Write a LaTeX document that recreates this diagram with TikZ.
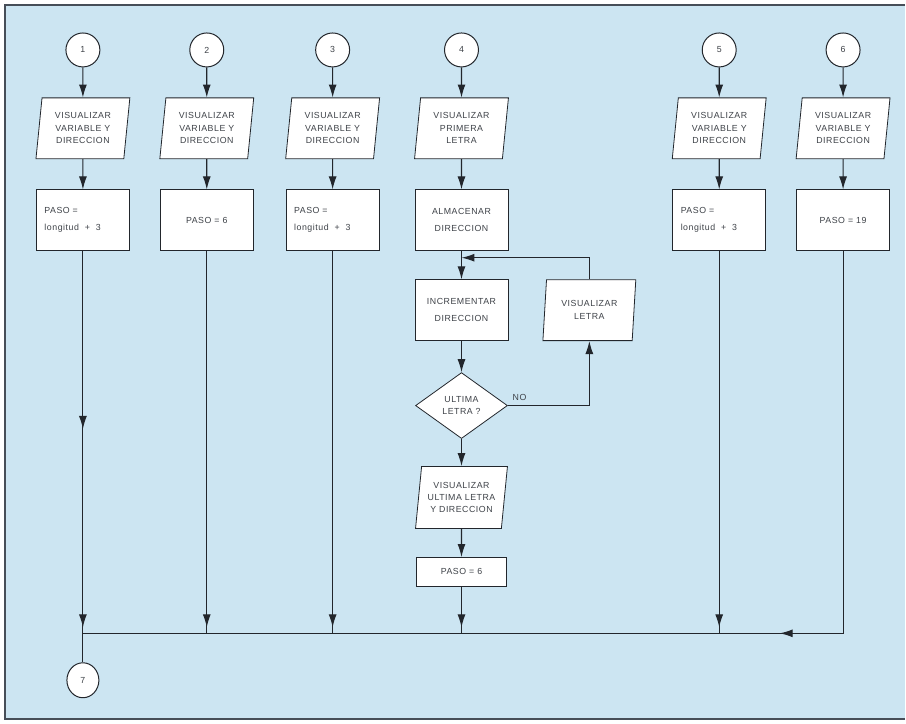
\documentclass[tikz,border=0pt]{standalone}
\usepackage{fontspec}
\setmainfont{Liberation Sans}[LetterSpace=6]
\usetikzlibrary{shapes.geometric,arrows.meta,decorations.markings}
\definecolor{bg}{RGB}{204,229,242}
\definecolor{ink}{RGB}{34,38,44}
\definecolor{txt}{RGB}{62,66,72}
\definecolor{framec}{RGB}{70,78,88}
\begin{document}
\begin{tikzpicture}[x=1pt,y=-1pt,
  every node/.style={font=\fontsize{8.8}{12.5}\selectfont, text=txt},
  tip/.style={-{Latex[length=13pt,width=8pt]}},
  conn/.style={color=ink, line width=1.1pt},
  arr/.style={conn, tip},
  endmark/.style={conn, postaction=decorate, decoration={markings,
      mark=at position -6pt with {\arrow{Latex[length=13pt,width=8pt]}}}},
  conncircle/.style={circle, draw=ink, line width=1pt, fill=white, minimum size=34pt, inner sep=0pt},
  para/.style={trapezium, trapezium left angle=79, trapezium right angle=101,
      trapezium stretches body, draw=ink, line width=0.8pt, fill=white,
      minimum width=94pt, minimum height=61pt, inner sep=0pt, align=center},
  procbox/.style={rectangle, draw=ink, line width=0.8pt, fill=white,
      minimum width=93pt, minimum height=61pt, inner sep=0pt, align=center},
  leftbox/.style={procbox, text width=77pt, align=left, font=\fontsize{8.8}{17}\selectfont},
  decision/.style={diamond, draw=ink, line width=0.8pt, fill=white, aspect=1.4,
      minimum width=92pt, minimum height=66pt, inner sep=0pt, align=center}
]
% background and frame
\fill[white] (0,0) rectangle (906,724);
\fill[bg] (5,5) rectangle (906,720);
\draw[framec, line width=2pt] (906,5) -- (5,5) -- (5,720) -- (906,720);

% column 1
\node[conncircle] (c1) at (83,50) {1};
\node[para] (p1) at (83,128.5) {VISUALIZAR\\VARIABLE Y\\DIRECCION};
\node[leftbox] (r1) at (83,220.5) {PASO =\\longitud \ + \ 3};
% column 2
\node[conncircle] (c2) at (207,50) {2};
\node[para] (p2) at (207,128.5) {VISUALIZAR\\VARIABLE Y\\DIRECCION};
\node[procbox] (r2) at (207,220.5) {PASO = 6};
% column 3
\node[conncircle] (c3) at (333,50) {3};
\node[para] (p3) at (333,128.5) {VISUALIZAR\\VARIABLE Y\\DIRECCION};
\node[leftbox] (r3) at (333,220.5) {PASO =\\longitud \ + \ 3};
% column 4
\node[conncircle] (c4) at (462,50) {4};
\node[para] (p4) at (462,128.5) {VISUALIZAR\\PRIMERA\\LETRA};
\node[procbox, font=\fontsize{8.8}{17}\selectfont] (r4) at (462,220.5) {ALMACENAR\\DIRECCION};
\node[procbox, font=\fontsize{8.8}{17}\selectfont] (inc) at (462,310.5) {INCREMENTAR\\DIRECCION};
\node[para, minimum width=93pt] (vl) at (590,310.5) {VISUALIZAR\\LETRA};
\node[decision] (dia) at (462,406) {ULTIMA\\LETRA ?};
\node[para, minimum width=92pt, minimum height=62pt] (ul) at (462,498) {VISUALIZAR\\ULTIMA LETRA\\Y DIRECCION};
\node[procbox, minimum width=90pt, minimum height=29pt] (r4b) at (462,572.5) {PASO = 6};
% column 5
\node[conncircle] (c5) at (720,50) {5};
\node[para] (p5) at (720,128.5) {VISUALIZAR\\VARIABLE Y\\DIRECCION};
\node[leftbox] (r5) at (720,220.5) {PASO =\\longitud \ + \ 3};
% column 6
\node[conncircle] (c6) at (844,50) {6};
\node[para] (p6) at (844,128.5) {VISUALIZAR\\VARIABLE Y\\DIRECCION};
\node[procbox] (r6) at (844,220.5) {PASO = 19};
% end connector
\node[ellipse, draw=ink, line width=1pt, fill=white, minimum width=32pt, minimum height=35pt, inner sep=0pt] (c7) at (83,681) {7};

% junctions
\coordinate (j1) at (83,634);
\coordinate (j2) at (207,634);
\coordinate (j3) at (333,634);
\coordinate (j4) at (462,634);
\coordinate (j5) at (720,634);
\coordinate (lj) at (462,258);

% top arrows
\foreach \i in {1,...,6} {
  \draw[arr] (c\i) -- (p\i);
  \draw[arr] (p\i) -- (r\i);
}
% loop in column 4
\draw[arr] (r4) -- (inc);
\draw[arr] (inc) -- (dia);
\draw[arr] (dia.east) -| (vl.south);
\draw[arr] (vl.north) |- (lj);
\node[anchor=south west, inner sep=0pt] (no) at (513,401) {NO};
\draw[arr] (dia) -- (ul);
\draw[arr] (ul) -- (r4b);

% down lines to the collector
\draw[conn, postaction=decorate, decoration={markings,
   mark=at position 178pt with {\arrow{Latex[length=13pt,width=8pt]}},
   mark=at position -6pt with {\arrow{Latex[length=13pt,width=8pt]}}}] (r1.south) -- (j1);
\draw[endmark] (r2.south) -- (j2);
\draw[endmark] (r3.south) -- (j3);
\draw[endmark] (r4b.south) -- (j4);
\draw[endmark] (r5.south) -- (j5);
\draw[conn, postaction=decorate, decoration={markings,
   mark=at position 446pt with {\arrow{Latex[length=13pt,width=8pt]}}}] (r6.south) |- (j1);
\draw[conn] (j1) -- (c7);
\end{tikzpicture}
\end{document}
